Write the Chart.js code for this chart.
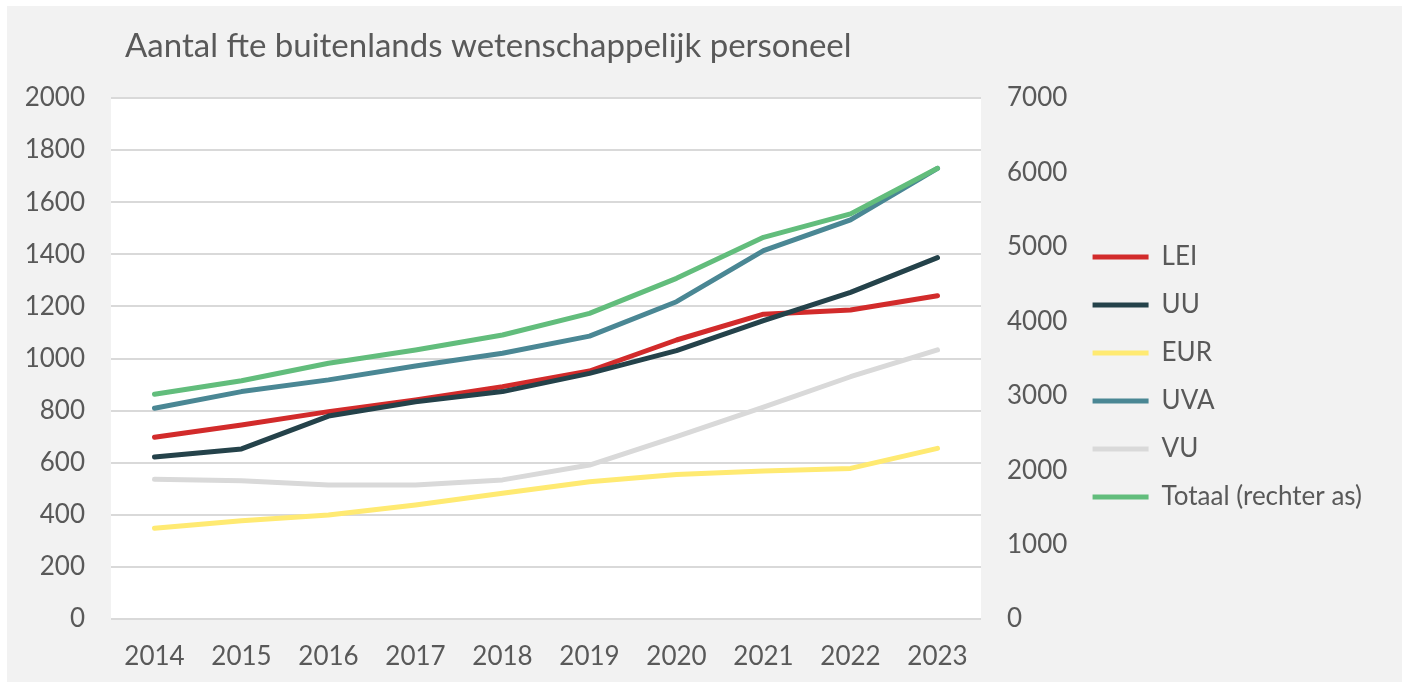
<!DOCTYPE html>
<html>
<head>
<meta charset="utf-8">
<script src="https://cdn.jsdelivr.net/npm/chart.js@4.4.1/dist/chart.umd.min.js"></script>
<style>
  body { margin: 0; background: #ffffff; }
  #wrap { position: absolute; left: 7px; top: 6px; width: 1395px; height: 676px; background: #f2f2f2; }
</style>
</head>
<body>
<div id="wrap"><canvas id="fteChart" width="1395" height="676"></canvas></div>
<script>
// data
var years = ['2014', '2015', '2016', '2017', '2018', '2019', '2020', '2021', '2022', '2023'];
var lei = [698, 745, 796, 841, 892, 952, 1071, 1170, 1186, 1241];
var uu = [622, 653, 779, 834, 873, 943, 1030, 1145, 1254, 1387];
var eur = [348, 377, 399, 438, 483, 527, 555, 568, 578, 655];
var uva = [809, 873, 918, 971, 1020, 1086, 1218, 1414, 1532, 1730];
var vu = [536, 531, 514, 514, 534, 591, 700, 813, 930, 1033];
var totaal = [3019, 3202, 3436, 3614, 3816, 4107, 4577, 5128, 5443, 6055];

var titleText = 'Aantal fte buitenlands wetenschappelijk personeel';
var textColor = '#595959';
var gridColor = '#d9d9d9';
var legendShift = -13;
var padRight = 30;

function line(label, data, color, order, axis) {
  return {
    label: label,
    data: data,
    borderColor: color,
    backgroundColor: color,
    borderWidth: 5,
    borderCapStyle: 'round',
    borderJoinStyle: 'round',
    pointRadius: 0,
    pointHoverRadius: 0,
    tension: 0,
    fill: false,
    order: order,
    yAxisID: axis || 'y'
  };
}

function plainTick(value) {
  return String(value);
}

// white plot area, title, and a small nudge of the legend
var chartDecor = {
  id: 'chartDecor',
  afterLayout: function (chart) {
    if (chart.legend) {
      chart.legend.top += legendShift;
      chart.legend.bottom += legendShift;
    }
  },
  beforeDraw: function (chart) {
    var a = chart.chartArea;
    var c = chart.ctx;
    c.save();
    c.fillStyle = '#ffffff';
    c.fillRect(a.left, a.top, a.right - a.left, a.bottom - a.top);
    c.fillStyle = textColor;
    c.font = '33px Lato';
    c.textBaseline = 'alphabetic';
    c.textAlign = 'left';
    c.fillText(titleText, 118, 51);
    c.restore();
  }
};

var ctx = document.getElementById('fteChart').getContext('2d');

var fteChart = new Chart(ctx, {
  type: 'line',
  data: {
    labels: years,
    datasets: [
      line('LEI', lei, '#d22b2b', 5),
      line('UU', uu, '#24424a', 4),
      line('EUR', eur, '#ffea72', 3),
      line('UVA', uva, '#4a8794', 2),
      line('VU', vu, '#d9d9d9', 1),
      line('Totaal (rechter as)', totaal, '#62bd7c', 0, 'y1')
    ]
  },
  options: {
    responsive: false,
    animation: false,
    layout: {
      autoPadding: false,
      padding: { top: 92, bottom: 0, left: 0, right: padRight }
    },
    plugins: {
      title: { display: false },
      tooltip: { enabled: false },
      legend: {
        position: 'right',
        maxWidth: 500,
        labels: {
          usePointStyle: true,
          pointStyle: 'line',
          pointStyleWidth: 56,
          padding: 22,
          color: textColor,
          font: { family: 'Lato', size: 26 },
          sort: function (a, b) { return a.datasetIndex - b.datasetIndex; }
        }
      }
    },
    scales: {
      x: {
        offset: true,
        grid: { display: false },
        border: { display: false },
        ticks: { color: textColor, font: { family: 'Lato', size: 26 }, padding: 14, maxRotation: 0, autoSkip: false },
        afterFit: function (scale) { scale.height = 63; }
      },
      y: {
        position: 'left',
        min: 0,
        max: 2000,
        ticks: { stepSize: 200, color: textColor, font: { family: 'Lato', size: 26 }, padding: 26, callback: plainTick },
        grid: { color: gridColor, lineWidth: 2, drawTicks: false },
        border: { display: false },
        afterFit: function (scale) { scale.width = 104; }
      },
      y1: {
        position: 'right',
        min: 0,
        max: 7000,
        ticks: { stepSize: 1000, color: textColor, font: { family: 'Lato', size: 26 }, padding: 26, callback: plainTick },
        grid: { drawOnChartArea: false, drawTicks: false },
        border: { display: false },
        afterFit: function (scale) {
          var lw = scale.chart.legend ? scale.chart.legend.width : 0;
          scale.width = scale.chart.width - 974 - lw - padRight;
        }
      }
    }
  },
  plugins: [chartDecor]
});
</script>
</body>
</html>
